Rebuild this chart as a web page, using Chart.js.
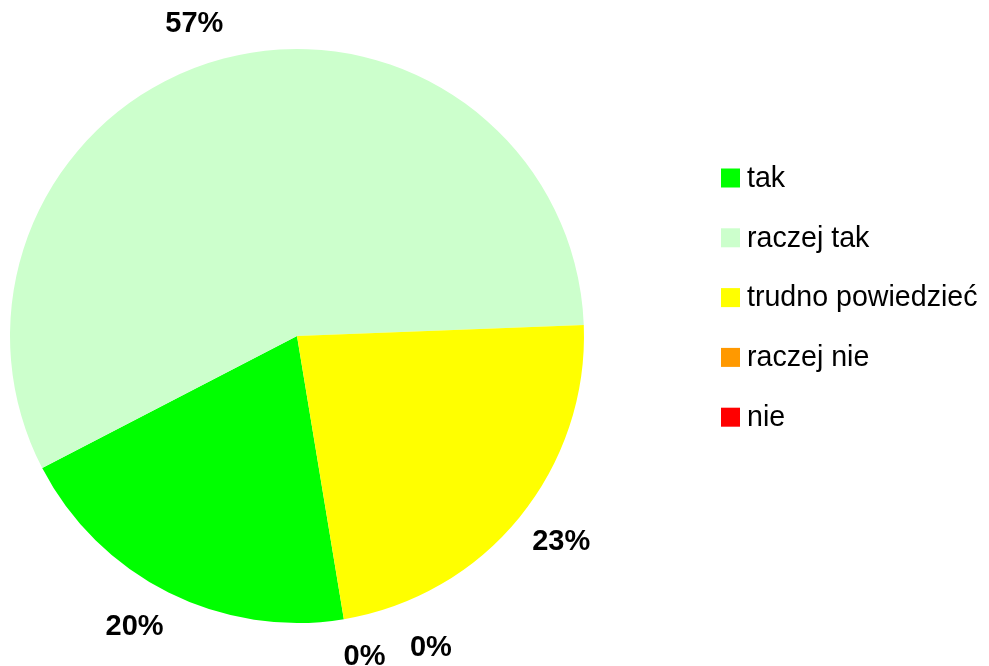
<!DOCTYPE html>
<html>
<head>
<meta charset="utf-8">
<script src="https://cdn.jsdelivr.net/npm/chart.js@4/dist/chart.umd.min.js"></script>
<style>
  html, body { margin: 0; padding: 0; background: #fff; }
  #wrap { width: 989px; height: 666px; position: relative; }
</style>
</head>
<body>
<div id="wrap"><canvas id="pie-chart"></canvas></div>
<script>
// dane
const categories = ['tak', 'raczej tak', 'trudno powiedzieć', 'raczej nie', 'nie'];
const shares = [20, 57, 23, 0, 0];
const sliceColors = ['#00ff00', '#ccffcc', '#ffff00', '#ff9900', '#ff0000'];

const FONT = 'Arial, "Liberation Sans", sans-serif';

// etykiety procentowe na zewnątrz wykresu
const outsideLabels = {
    id: 'outsideLabels',
    afterDatasetsDraw(chart) {
        const ctx = chart.ctx;
        const meta = chart.getDatasetMeta(0);
        const data = chart.data.datasets[0].data;
        const total = data.reduce((a, b) => a + b, 0);
        ctx.save();
        ctx.font = 'bold 29px ' + FONT;
        ctx.fillStyle = '#000';
        ctx.textAlign = 'center';
        ctx.textBaseline = 'middle';
        let zeros = 0;
        meta.data.forEach((arc, i) => {
            const p = arc.getProps(['x', 'y', 'startAngle', 'endAngle', 'outerRadius'], true);
            let angle = (p.startAngle + p.endAngle) / 2;
            let dist = p.outerRadius + 24;
            if (data[i] === 0) {
                // kolejne zerowe etykiety rozsuwamy, żeby się nie nakładały
                angle -= zeros * 12 * Math.PI / 180;
                dist += zeros * 10;
                zeros++;
            }
            const text = Math.round(data[i] / total * 100) + '%';
            const w = ctx.measureText(text).width;
            const c = Math.cos(angle), s = Math.sin(angle);
            const x = p.x + c * dist + Math.sign(c) * 0.8 * w / 2;
            const y = p.y + s * dist + s * 13;
            ctx.fillText(text, x, y + 1);
        });
        ctx.restore();
    }
};

// legenda po prawej
const sideLegend = {
    id: 'sideLegend',
    afterDraw(chart) {
        const ctx = chart.ctx;
        const colors = chart.data.datasets[0].backgroundColor;
        ctx.save();
        ctx.font = '28.6px ' + FONT;
        ctx.textBaseline = 'middle';
        chart.data.labels.forEach((label, i) => {
            const y = 178 + i * 59.8;
            ctx.fillStyle = colors[i];
            ctx.fillRect(721, y - 9.5, 19, 19);
            ctx.fillStyle = '#000';
            ctx.fillText(label, 747, y + 1);
        });
        ctx.restore();
    }
};

const ctx = document.getElementById('pie-chart');
new Chart(ctx, {
    type: 'pie',
    data: {
        labels: categories,
        datasets: [{
            data: shares,
            backgroundColor: sliceColors,
            borderWidth: 0
        }]
    },
    options: {
        responsive: true,
        maintainAspectRatio: false,
        animation: false,
        rotation: 170.6,
        layout: {
            padding: { left: 10, top: 49, bottom: 43, right: 405 }
        },
        plugins: {
            legend: { display: false },
            tooltip: { enabled: false }
        }
    },
    plugins: [outsideLabels, sideLegend]
});
</script>
</body>
</html>
